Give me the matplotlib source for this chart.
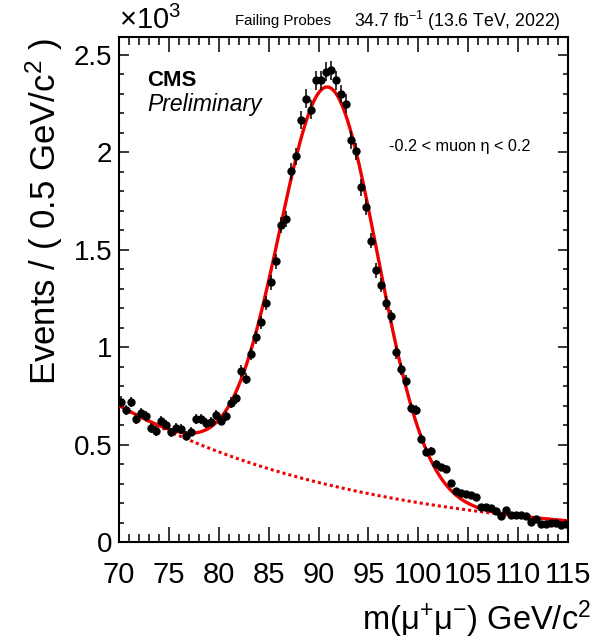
"""Tag-and-probe failing-probe mass fit, |eta| < 0.2 bin."""

import matplotlib

matplotlib.use("Agg")
import matplotlib.pyplot as plt
import numpy as np
from matplotlib.ticker import MultipleLocator

plt.rcParams["font.family"] = ["Liberation Sans", "DejaVu Sans"]
plt.rcParams["mathtext.fontset"] = "custom"
plt.rcParams["mathtext.rm"] = "Liberation Sans"
plt.rcParams["mathtext.it"] = "Liberation Sans:italic"
plt.rcParams["mathtext.bf"] = "Liberation Sans:bold"

# histogram: 0.5 GeV bins from 70 to 115
bin_lo = 70.0
bin_hi = 115.0
bin_width = 0.5
counts = [
    720, 678, 717, 630, 661, 647, 584, 570, 623, 602,
    563, 584, 579, 546, 565, 630, 630, 609, 614, 650,
    623, 647, 715, 736, 878, 837, 965, 1049, 1126, 1225,
    1331, 1439, 1624, 1658, 1901, 1978, 2163, 2274, 2218, 2368,
    2368, 2411, 2419, 2368, 2298, 2248, 2060, 2004, 1819, 1718,
    1545, 1393, 1316, 1225, 1157, 972, 887, 826, 686, 678,
    529, 464, 466, 402, 383, 376, 301, 260, 253, 246,
    240, 230, 177, 177, 172, 160, 132, 162, 140, 140,
    140, 132, 104, 116, 92, 92, 96, 96, 87, 92,
]

# fit result (gaussian signal + exponential background)
bkg_norm = 700.0
bkg_slope = 0.0415
sig_peak = 2040.0
sig_mean = 91.0
sig_width = 4.9

y_ticks = [0, 500, 1000, 1500, 2000, 2500]
y_tick_labels = ["0", "0.5", "1", "1.5", "2", "2.5"]
x_ticks = [70, 75, 80, 85, 90, 95, 100, 105, 110, 115]


def background(m):
    return bkg_norm * np.exp(-bkg_slope * (m - bin_lo))


def signal(m):
    return sig_peak * np.exp(-0.5 * ((m - sig_mean) / sig_width) ** 2)


def main() -> None:
    counts_arr = np.array(counts, dtype=float)
    centers = bin_lo + bin_width * (np.arange(len(counts_arr)) + 0.5)
    errors = np.sqrt(counts_arr)

    fig = plt.figure(figsize=(6.01, 6.44), dpi=100)
    ax = fig.add_axes([119 / 601, 1 - 542 / 644, (568 - 119) / 601, (542 - 37) / 644])

    m = np.linspace(bin_lo, bin_hi, 600)
    ax.plot(m, background(m), color="#ee0000", lw=2.2, linestyle=(0, (1, 1)), zorder=2)
    ax.plot(m, background(m) + signal(m), color="#ee0000", lw=2.4, zorder=3)
    ax.errorbar(
        centers, counts_arr, yerr=errors, xerr=bin_width / 2,
        fmt="o", color="black", ms=5, elinewidth=1.1, capsize=0, zorder=4,
    )

    ax.set_xlim(bin_lo, bin_hi)
    ax.set_ylim(0, 2590)
    ax.set_xticks(x_ticks)
    ax.set_xticklabels([str(t) for t in x_ticks])
    ax.set_yticks(y_ticks)
    ax.set_yticklabels(y_tick_labels)
    ax.xaxis.set_minor_locator(MultipleLocator(1))
    ax.yaxis.set_minor_locator(MultipleLocator(100))
    ax.tick_params(which="both", direction="in", top=True, right=True, width=1.1)
    ax.tick_params(axis="x", which="major", length=11, labelsize=21, pad=14)
    ax.tick_params(axis="x", which="minor", length=5.5)
    ax.tick_params(axis="y", which="major", length=7, labelsize=20, pad=5)
    ax.tick_params(axis="y", which="minor", length=3.5)
    for spine in ax.spines.values():
        spine.set_linewidth(1.5)

    fig.text(44 / 601, 1 - 38 / 644, "Events / ( 0.5 GeV/c$^{2}$ )",
             rotation=90, ha="center", va="top", fontsize=25)
    fig.text(591 / 601, 1 - 619 / 644, "m(μ$^{+}$μ$^{-}$) GeV/c$^{2}$",
             ha="right", va="center", fontsize=23.5)
    fig.text(119 / 601, 1 - 20 / 644, "×10$^{3}$", ha="left", va="center", fontsize=21)
    fig.text(235 / 601, 1 - 21 / 644, "Failing Probes", ha="left", va="center", fontsize=10.8)
    fig.text(354 / 601, 1 - 21 / 644, "34.7 fb$^{-1}$ (13.6 TeV, 2022)",
             ha="left", va="center", fontsize=12.7)
    fig.text(147 / 601, 1 - 80 / 644, "CMS", ha="left", va="center",
             fontsize=16, fontweight="bold")
    fig.text(147 / 601, 1 - 105 / 644, "Preliminary", ha="left", va="center",
             fontsize=16.5, style="italic")
    fig.text(389 / 601, 1 - 146 / 644, "-0.2 < muon η < 0.2", ha="left", va="center",
             fontsize=11.7)

    fig.savefig("out.png", dpi=100)
    plt.close(fig)


if __name__ == "__main__":
    main()
